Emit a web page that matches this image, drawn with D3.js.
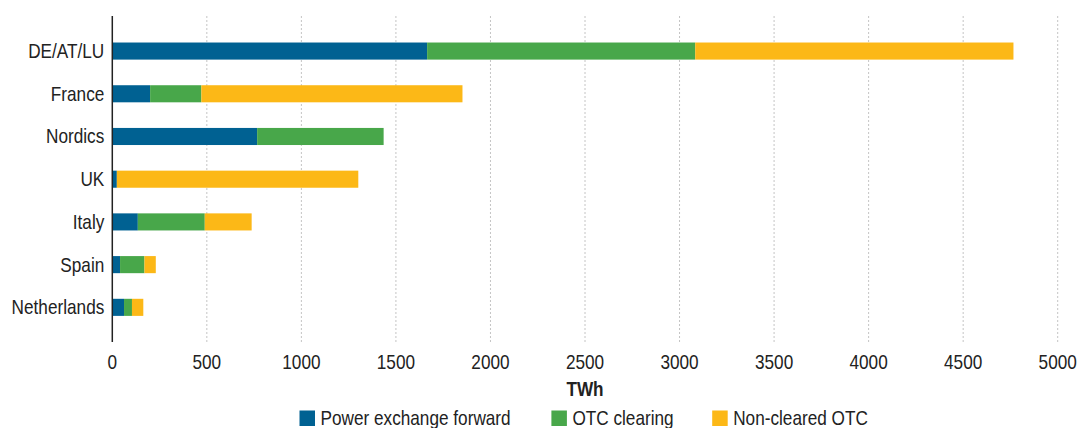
<!DOCTYPE html>
<html>
<head>
<meta charset="utf-8">
<script src="https://cdn.jsdelivr.net/npm/d3@7"></script>
<style>
  html, body { margin: 0; padding: 0; background: #fff; }
  svg { display: block; font-family: "Liberation Sans", Arial, sans-serif; }
</style>
</head>
<body>
<div id="chart"></div>
<script>
// dados (TWh)
const categories = ["DE/AT/LU", "France", "Nordics", "UK", "Italy", "Spain", "Netherlands"];
const powerExchange = [1665, 200, 766, 24, 135, 41, 62];
const otcClearing = [1418, 271, 669, 0, 354, 129, 42];
const nonClearedOtc = [1683, 1381, 0, 1277, 248, 60, 60];
const seriesNames = ["Power exchange forward", "OTC clearing", "Non-cleared OTC"];
const xTicks = [0, 500, 1000, 1500, 2000, 2500, 3000, 3500, 4000, 4500, 5000];

const colors = ["#006192", "#48a74a", "#fcb817"];
const width = 1079, height = 428;
const margin = { top: 16, left: 112.3, right: 21.3, bottom: 86 };
const sx = 0.86; // fonte um pouco estreita como no original

const svg = d3.select("#chart").append("svg")
  .attr("width", width)
  .attr("height", height);

const x = d3.scaleLinear()
  .domain([0, 5000])
  .range([margin.left, width - margin.right]);

const y = d3.scaleBand()
  .domain(categories)
  .range([29.7, 328.7])
  .paddingInner(0.6)
  .paddingOuter(0.3);

// texto com escala horizontal
function label(g, tx, ty, str, anchor, opts = {}) {
  return g.append("text")
    .attr("transform", `translate(${tx},${ty}) scale(${sx},1)`)
    .attr("text-anchor", anchor)
    .attr("font-size", opts.size || 20)
    .attr("font-weight", opts.bold ? "bold" : "normal")
    .attr("fill", "#222")
    .text(str);
}

// linhas de grade pontilhadas
svg.selectAll(".grid")
  .data(xTicks.slice(1))
  .enter()
  .append("line")
  .attr("class", "grid")
  .attr("x1", d => x(d))
  .attr("x2", d => x(d))
  .attr("y1", 16)
  .attr("y2", 342)
  .attr("stroke", "#c4c4c4")
  .attr("stroke-width", 1)
  .attr("stroke-dasharray", "2,2");

// barras empilhadas
const rows = categories.map((c, i) => ({
  cat: c,
  vals: [powerExchange[i], otcClearing[i], nonClearedOtc[i]]
}));

rows.forEach(r => {
  let acc = 0;
  r.vals.forEach((v, k) => {
    if (v > 0) {
      svg.append("rect")
        .attr("x", x(acc))
        .attr("y", y(r.cat))
        .attr("width", x(acc + v) - x(acc))
        .attr("height", y.bandwidth())
        .attr("fill", colors[k]);
    }
    acc += v;
  });
});

// eixo vertical
svg.append("line")
  .attr("x1", x(0)).attr("x2", x(0))
  .attr("y1", 16).attr("y2", 342)
  .attr("stroke", "#222")
  .attr("stroke-width", 1.5);

// rótulos das categorias
categories.forEach(c => {
  label(svg, x(0) - 8, y(c) + y.bandwidth() / 2 + 7, c, "end");
});

// rótulos do eixo x
xTicks.forEach(t => {
  label(svg, x(t), 368.5, t, "middle");
});

label(svg, (x(0) + x(5000)) / 2, 396.3, "TWh", "middle", { bold: true });

// legenda
const legendX = [299.5, 551.4, 712.2];
seriesNames.forEach((n, k) => {
  svg.append("rect")
    .attr("x", legendX[k])
    .attr("y", 410.5)
    .attr("width", 15.5)
    .attr("height", 15.5)
    .attr("fill", colors[k]);
  label(svg, legendX[k] + 21, 425, n, "start");
});
</script>
</body>
</html>
